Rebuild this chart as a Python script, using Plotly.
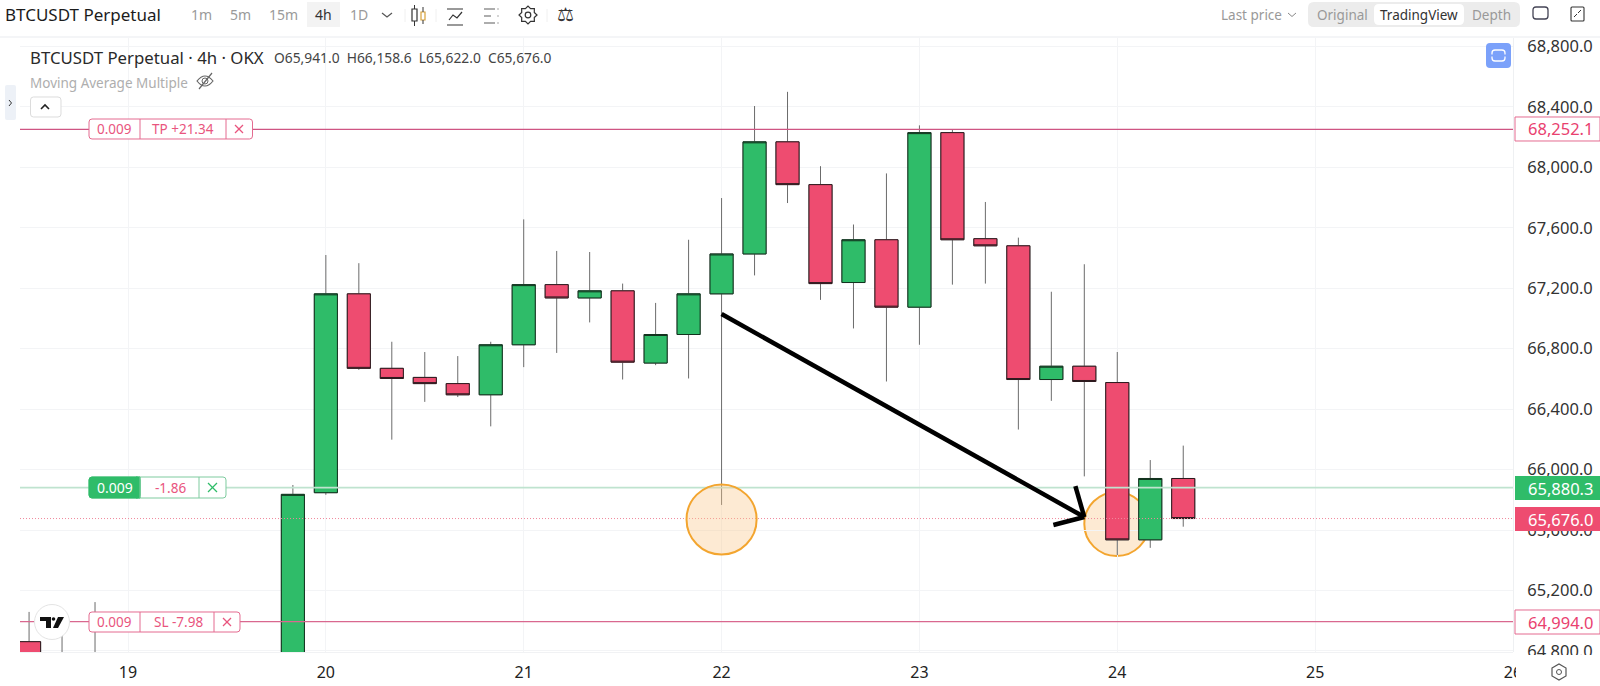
import math
import plotly.graph_objects as go

W, H = 1600, 686
L, R, T, B = 20, 1513, 38, 652

times = ["2024-06-18 12:00","2024-06-18 16:00","2024-06-18 20:00","2024-06-19 20:00",
 "2024-06-20 00:00","2024-06-20 04:00","2024-06-20 08:00","2024-06-20 12:00","2024-06-20 16:00","2024-06-20 20:00",
 "2024-06-21 00:00","2024-06-21 04:00","2024-06-21 08:00","2024-06-21 12:00","2024-06-21 16:00","2024-06-21 20:00",
 "2024-06-22 00:00","2024-06-22 04:00","2024-06-22 08:00","2024-06-22 12:00","2024-06-22 16:00","2024-06-22 20:00",
 "2024-06-23 00:00","2024-06-23 04:00","2024-06-23 08:00","2024-06-23 12:00","2024-06-23 16:00","2024-06-23 20:00",
 "2024-06-24 00:00","2024-06-24 04:00","2024-06-24 08:00"]
opens = [64861,64600,64600,64500,65847,67163,66670,66610,66569,66495,66826,67224,67136,67183,66705,66894,
 67163,67427,68169,67886,67238,67521,67075,68230,67528,67481,66596,66684,66576,65535,65941]
highs = [65058,65000,65123,65898,67420,67366,66846,66778,66751,66846,67656,67447,67440,67231,67103,67521,
 67797,68406,68500,68008,67622,67960,68278,68250,67771,67535,67177,67359,66778,66063,66158.6]
lows = [64400,64400,64400,64400,65833,66660,66198,66448,66480,66286,66678,66772,66974,66596,66691,66603,
 65766,67285,67764,67123,66934,66583,66826,67224,67231,66265,66455,65955,65434,65482,65622]
closes = [64500,64500,64500,65836,67163,66670,66603,66569,66495,66826,67224,67136,67183,66711,66894,67163,
 67427,68169,67886,67231,67521,67075,68230,67521,67481,66596,66684,66583,65535,65941,65676]

y_ticks = [68800,68400,68000,67600,67200,66800,66400,66000,65600,65200,64800]
day_ticks = ["2024-06-19","2024-06-20","2024-06-21","2024-06-22","2024-06-23","2024-06-24","2024-06-25","2024-06-26"]
tp_price, entry_price, last_price, sl_price = 68252.1, 65880.3, 65676.0, 64994.0

GREEN, RED = "#2fbc69", "#ee4c70"
FONT = "Noto Sans"

def fx(px): return (px - L) / (R - L)
def fy(py): return (B - py) / (B - T)
def val_of(py): return 68800 - (py - 46.5) / 0.1511

shapes, anns = [], []

def pline(x0, y0, x1, y1, color="#777", w=1, dash=None):
    shapes.append(dict(type="line", xref="paper", yref="paper", x0=fx(x0), x1=fx(x1), y0=fy(y0), y1=fy(y1),
                       line=dict(color=color, width=w, dash=dash or "solid"), layer="above"))

def prect(x0, y0, x1, y1, fill="rgba(0,0,0,0)", color="rgba(0,0,0,0)", w=1):
    shapes.append(dict(type="rect", xref="paper", yref="paper", x0=fx(x0), x1=fx(x1), y0=fy(y1), y1=fy(y0),
                       fillcolor=fill, line=dict(color=color, width=w), layer="above"))

def rr(x0, y0, x1, y1, r, fill="rgba(0,0,0,0)", color="rgba(0,0,0,0)", w=1):
    X = lambda v: f"{fx(v):.6f}"; Y = lambda v: f"{fy(v):.6f}"
    p = (f"M{X(x0+r)},{Y(y0)} L{X(x1-r)},{Y(y0)} Q{X(x1)},{Y(y0)} {X(x1)},{Y(y0+r)} L{X(x1)},{Y(y1-r)} "
         f"Q{X(x1)},{Y(y1)} {X(x1-r)},{Y(y1)} L{X(x0+r)},{Y(y1)} Q{X(x0)},{Y(y1)} {X(x0)},{Y(y1-r)} "
         f"L{X(x0)},{Y(y0+r)} Q{X(x0)},{Y(y0)} {X(x0+r)},{Y(y0)} Z")
    shapes.append(dict(type="path", xref="paper", yref="paper", path=p, fillcolor=fill,
                       line=dict(color=color, width=w), layer="above"))

def poly(pts, fill="#000", color="rgba(0,0,0,0)", w=0, close=True):
    X = lambda v: f"{fx(v):.6f}"; Y = lambda v: f"{fy(v):.6f}"
    p = "M" + " L".join(f"{X(a)},{Y(b)}" for a, b in pts) + (" Z" if close else "")
    shapes.append(dict(type="path", xref="paper", yref="paper", path=p, fillcolor=fill if close else "rgba(0,0,0,0)",
                       line=dict(color=color, width=w), layer="above"))

def circ(cx, cy, r, fill="rgba(0,0,0,0)", color="#777", w=1):
    shapes.append(dict(type="circle", xref="paper", yref="paper", x0=fx(cx-r), x1=fx(cx+r), y0=fy(cy+r), y1=fy(cy-r),
                       fillcolor=fill, line=dict(color=color, width=w), layer="above"))

def text(x, y, s, size=14, color="#333", anchor="center", family=FONT, bold=False):
    anns.append(dict(xref="paper", yref="paper", x=fx(x), y=fy(y), text=f"<b>{s}</b>" if bold else s, showarrow=False,
                     xanchor=anchor, yanchor="middle", font=dict(size=size, color=color, family=family),
                     borderpad=0, borderwidth=0))

# price lines, drawn in data coordinates
for price, color, w, dash in [(tp_price, "#cf5583", 1.2, "solid"), (sl_price, "#d9688f", 1.2, "solid"),
                              (entry_price, "#bfe3cf", 1.6, "solid"), (last_price, "#f0899c", 1, "1px,2px")]:
    shapes.append(dict(type="line", xref="paper", yref="y", x0=0, x1=1, y0=price, y1=price,
                       line=dict(color=color, width=w, dash=dash), layer="above"))

# highlight circles
shapes.append(dict(type="circle", xref="x", yref="y", x0="2024-06-21 19:45", x1="2024-06-22 04:15", y0=65438, y1=65902,
                   fillcolor="rgba(250,200,140,0.38)", line=dict(color="#f3a52f", width=2), layer="above"))
shapes.append(dict(type="circle", xref="x", yref="y", x0="2024-06-23 20:00", x1="2024-06-24 03:50", y0=65428, y1=65852,
                   fillcolor="rgba(250,200,140,0.38)", line=dict(color="#f3a52f", width=2), layer="below"))
# arrow
for x0, y0, x1, y1 in [("2024-06-22 00:00", 67030, "2024-06-23 20:00", 65686),
                       ("2024-06-23 18:55", 65891, "2024-06-23 20:00", 65686),
                       ("2024-06-23 16:15", 65633, "2024-06-23 20:00", 65686)]:
    shapes.append(dict(type="line", xref="x", yref="y", x0=x0, x1=x1, y0=y0, y1=y1,
                       line=dict(color="#000", width=4.5), layer="above"))

# panels hiding clipped axis labels
prect(1516, 655, 1600, 686, "#fff")
prect(1516, 652, 1526, 686, "#fff")
pline(1513.5, 38, 1513.5, 652, "#eef0f2", 1)
pline(0, 37, 1600, 37, "#f1f2f4", 1.5)

# toolbar
text(5, 15, "BTCUSDT Perpetual", 17, "#1c1c1c", "left")
prect(307, 2, 340, 27, "#f3f3f3")
for x, s, c in [(201, "1m", "#9a9a9a"), (240, "5m", "#9a9a9a"), (283, "15m", "#9a9a9a"), (323, "4h", "#333"), (359, "1D", "#9a9a9a")]:
    text(x, 15, s, 14, c)
poly([(382, 13), (387, 17), (392, 13)], color="#555", w=1.2, close=False)
# candle icon
prect(412, 9, 417, 21, color="#333", w=1.2); pline(414.5, 5, 414.5, 9, "#333"); pline(414.5, 21, 414.5, 26, "#333")
prect(421, 12, 425, 20, color="#d6a13a", w=1.2); pline(423, 7, 423, 12, "#333"); pline(423, 20, 423, 24, "#333")
# indicator icon
pline(447, 9, 463, 9, "#555", 1.2); pline(447, 25, 463, 25, "#555", 1.2)
poly([(449, 20), (453, 15), (457, 18), (462, 12)], color="#333", w=1.2, close=False)
# list icon
for y, x1, d in [(9, 495, 498), (16, 491, 498), (23, 495, 498)]:
    pline(484, y, x1, y, "#777", 1.2); pline(d - 1, y, d + 1, y, "#aaa", 1.2)
# gear outline
gear = [(528 + (9 if i % 2 == 0 else 6.8) * math.cos(i * math.pi / 8),
         15 + (9 if i % 2 == 0 else 6.8) * math.sin(i * math.pi / 8)) for i in range(16)]
poly(gear, "rgba(0,0,0,0)", "#333", 1.2)
circ(528, 15, 2.8, color="#333", w=1.2)
# scale
text(565, 14, "⚖", 19, "#333", family="DejaVu Sans")
for x in [405, 436, 547]:
    pline(x, 9, x, 22, "#f0f0f0", 1)

text(1251, 15, "Last price", 13.5, "#999")
poly([(1288, 13), (1292, 16.5), (1296, 13)], color="#888", w=1, close=False)
rr(1308, 2, 1520, 27, 6, "#ececec")
rr(1374, 4, 1464, 25, 5, "#fff")
text(1342, 15, "Original", 13.5, "#999"); text(1419, 15, "TradingView", 13.5, "#333"); text(1491, 15, "Depth", 13.5, "#999")
rr(1533, 7, 1548, 19, 3, color="#445", w=1.3)
rr(1571, 7, 1584, 21, 1, color="#333", w=1.1)
pline(1574, 17, 1577, 14, "#333", 1); pline(1578, 13, 1581, 10, "#333", 1)

# legend
text(30, 57, "BTCUSDT Perpetual · 4h · OKX", 16.8, "#2a2a2a", "left")
text(274, 57, "O65,941.0&nbsp;&nbsp;H66,158.6&nbsp;&nbsp;L65,622.0&nbsp;&nbsp;C65,676.0", 13.8, "#444", "left")
text(30, 83, "Moving Average Multiple", 13.5, "#aeaeae", "left")
shapes.append(dict(type="path", xref="paper", yref="paper",
    path=f"M{fx(197)},{fy(81)} Q{fx(205)},{fy(71)} {fx(213)},{fy(81)} Q{fx(205)},{fy(91)} {fx(197)},{fy(81)} Z",
    line=dict(color="#666", width=1.2), layer="above"))
circ(205, 81, 3, color="#666"); pline(199, 89, 212, 73, "#666", 1.2)
rr(5, 85, 16, 120, 2, "#edf1f7")
poly([(9, 100), (11.5, 103), (9, 106)], color="#333", w=1, close=False)
rr(30.5, 97, 61, 117, 3, "#fff", "#dcdcdc")
poly([(41, 109), (45, 105), (49, 109)], color="#222", w=1.6, close=False)

# blue reset button
rr(1486, 43, 1511, 68, 4, "#7ba1fa")
rr(1492, 50, 1505, 61, 3, color="#fff", w=1.3)
prect(1491, 54.5, 1506, 56.5, "#7ba1fa")

# order tags
def tag(y0, y1, x0, s1, s2, s3, color, filled=False):
    rr(x0, y0, s3, y1, 3, "#fff", color, 1)
    if filled:
        rr(x0, y0, s1, y1, 3, GREEN, GREEN)
        prect(s1 - 4, y0, s1, y1, GREEN, GREEN)
    pline(s1, y0, s1, y1, color, 1); pline(s2, y0, s2, y1, color, 1)

PINK = "#e46b90"
tag(119, 139, 89, 140, 226, 252.5, PINK)
text(114.5, 129, "0.009", 13.5, "#e9557e"); text(183, 129, "TP +21.34", 13.5, "#e9557e")
pline(235, 125, 243, 133, "#e9557e", 1.2); pline(235, 133, 243, 125, "#e9557e", 1.2)
tag(477, 498, 89, 140, 199, 226, "#7ecb9f", True)
text(114.5, 487.5, "0.009", 14, "#fff"); text(170, 487.5, "-1.86", 13.5, "#e9557e")
pline(208, 483, 217, 492, GREEN, 1.3); pline(208, 492, 217, 483, GREEN, 1.3)
tag(612, 632, 89, 140, 214, 240, PINK)
text(114.5, 622, "0.009", 13.5, "#e9557e"); text(178, 622, "SL -7.98", 13.5, "#e9557e")
pline(223, 618, 231, 626, "#e9557e", 1.2); pline(223, 626, 231, 618, "#e9557e", 1.2)

# TradingView logo
circ(52, 622, 17.5, "#fff", "#e4e4e4", 1)
poly([(40, 617), (51, 617), (51, 628), (46, 628), (46, 621), (40, 621)], "#111")
poly([(53, 628), (58, 617), (64, 617), (58, 628)], "#111")
circ(53.5, 619, 1.8, "#111", "#111", 0)

# right price tags
rr(1515, 117, 1600, 141, 0, "#fff", PINK)
text(1560, 129, "68,252.1", 16.5, "#e9416f")
prect(1515, 476, 1600, 500, GREEN)
text(1560, 488, "65,880.3", 16.5, "#fff")
prect(1515, 507, 1600, 531, RED)
text(1560, 519, "65,676.0", 16.5, "#fff")
rr(1515, 610, 1600, 634, 0, "#fff", PINK)
text(1560, 622, "64,994.0", 16.5, "#e9416f")

# hexagon settings
poly([(1552, 668), (1559, 664), (1566, 668), (1566, 676), (1559, 680), (1552, 676)], "rgba(0,0,0,0)", "#555", 1.2)
circ(1559, 672, 2.5, color="#555")

body_top = [max(o, c) for o, c in zip(opens, closes)]
body_bottom = [min(o, c) for o, c in zip(opens, closes)]

fig = go.Figure()
# wicks in grey, bodies with a dark outline on top
fig.add_trace(go.Candlestick(
    x=times, open=opens, high=highs, low=lows, close=closes,
    increasing=dict(fillcolor=GREEN, line=dict(color="#6b6b6b", width=1)),
    decreasing=dict(fillcolor=RED, line=dict(color="#6b6b6b", width=1)),
    whiskerwidth=0, hoverinfo="skip", showlegend=False))
fig.add_trace(go.Candlestick(
    x=times, open=opens, high=body_top, low=body_bottom, close=closes,
    increasing=dict(fillcolor=GREEN, line=dict(color="#12321e", width=1)),
    decreasing=dict(fillcolor=RED, line=dict(color="#2c1a1e", width=1)),
    whiskerwidth=0, hoverinfo="skip", showlegend=False))

fig.update_layout(
    width=W, height=H, margin=dict(l=L, r=W - R, t=T, b=H - B, pad=0, autoexpand=False),
    paper_bgcolor="#fff", plot_bgcolor="#fff", boxmode="overlay", boxgap=0.3, boxgroupgap=0, showlegend=False,
    font=dict(family=FONT, size=16, color="#333"),
    shapes=shapes, annotations=anns,
    xaxis=dict(type="date", range=["2024-06-18 10:54", "2024-06-26 00:00"], rangeslider=dict(visible=False),
               tickvals=day_ticks, tickformat="%-d", ticks="outside", ticklen=6, tickcolor="#fff",
               showgrid=True, gridcolor="#f3f4f6", gridwidth=1, zeroline=False, showline=True, linecolor="#f1f2f4",
               tickfont=dict(size=16, color="#222")),
    yaxis=dict(side="right", range=[val_of(B), val_of(T)], tickvals=y_ticks, tickformat=",.1f",
               ticks="outside", ticklen=10, tickcolor="#fff", showgrid=True, gridcolor="#f3f4f6", gridwidth=1,
               zeroline=False, tickfont=dict(size=16.5, color="#333")),
)
fig.write_html("out.html", post_script="document.body.style.margin='0';document.documentElement.style.overflow='hidden';",
               config=dict(displayModeBar=False))
